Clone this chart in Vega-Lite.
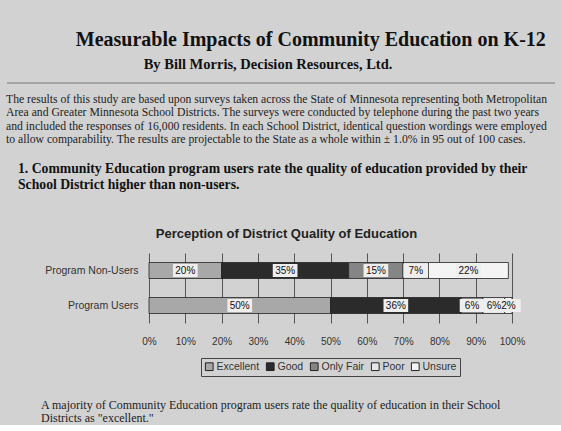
{
  "$schema": "https://vega.github.io/schema/vega-lite/v6.json",
  "background": "#d2d2d2",
  "padding": {"left": 6, "right": 5, "top": 29, "bottom": 0},
  "title": {
    "text": "Measurable Impacts of Community Education on K-12",
    "font": "Liberation Serif",
    "fontSize": 20,
    "fontWeight": "bold",
    "color": "#111",
    "anchor": "middle",
    "dx": 30,
    "offset": 7
  },
  "config": {
    "view": {"stroke": null},
    "font": "Liberation Sans"
  },
  "resolve": {"scale": {"color": "independent"}, "legend": {"color": "independent"}},
  "spacing": 8,
  "vconcat": [
    {
      "width": 548,
      "height": 1,
      "data": {"values": [{"line": 0}]},
      "title": {
        "text": "By Bill Morris, Decision Resources, Ltd.",
        "font": "Liberation Serif",
        "fontSize": 14.5,
        "fontWeight": "bold",
        "color": "#111",
        "anchor": "middle",
        "dx": -13,
        "offset": 10
      },
      "mark": {"type": "rule", "color": "#777", "strokeWidth": 1.2},
      "encoding": {"y": {"datum": 0, "type": "quantitative", "axis": null}}
    },
    {
      "width": 548,
      "height": 54,
      "data": {
        "values": [
          {"line": 1, "text": "The results of this study are based upon surveys taken across the State of Minnesota representing both Metropolitan"},
          {"line": 2, "text": "Area and Greater Minnesota School Districts. The surveys were conducted by telephone during the past two years"},
          {"line": 3, "text": "and included the responses of 16,000 residents. In each School District, identical question wordings were employed"},
          {"line": 4, "text": "to allow comparability. The results are projectable to the State as a whole within ± 1.0% in 95 out of 100 cases."}
        ]
      },
      "title": {
        "text": [
          "1. Community Education program users rate the quality of education provided by their",
          "School District higher than non-users."
        ],
        "orient": "bottom",
        "anchor": "start",
        "font": "Liberation Serif",
        "fontSize": 13.7,
        "fontWeight": "bold",
        "lineHeight": 16,
        "color": "#111",
        "offset": 16,
        "dx": 12
      },
      "mark": {"type": "text", "font": "Liberation Serif", "fontSize": 11.7, "color": "#222", "align": "left", "baseline": "middle", "dx": -275},
      "encoding": {
        "y": {"field": "line", "type": "ordinal", "axis": null},
        "text": {"field": "text"}
      }
    },
    {
      "width": 505,
      "height": 70,
      "title": {
        "text": ["", "Perception of District Quality of Education"],
        "font": "Liberation Sans",
        "fontSize": 13,
        "fontWeight": "bold",
        "lineHeight": 28,
        "color": "#222",
        "anchor": "middle",
        "dx": 27,
        "offset": 12
      },
      "data": {
        "values": [
          {"group": "Program Non-Users", "rating": "Excellent", "rank": 1, "share": 0.20},
          {"group": "Program Non-Users", "rating": "Good", "rank": 2, "share": 0.35},
          {"group": "Program Non-Users", "rating": "Only Fair", "rank": 3, "share": 0.15},
          {"group": "Program Non-Users", "rating": "Poor", "rank": 4, "share": 0.07},
          {"group": "Program Non-Users", "rating": "Unsure", "rank": 5, "share": 0.22},
          {"group": "Program Users", "rating": "Excellent", "rank": 1, "share": 0.50},
          {"group": "Program Users", "rating": "Good", "rank": 2, "share": 0.36},
          {"group": "Program Users", "rating": "Only Fair", "rank": 3, "share": 0.06},
          {"group": "Program Users", "rating": "Poor", "rank": 4, "share": 0.06},
          {"group": "Program Users", "rating": "Unsure", "rank": 5, "share": 0.02}
        ]
      },
      "encoding": {
        "y": {
          "field": "group",
          "type": "nominal",
          "sort": ["Program Non-Users", "Program Users"],
          "axis": {
            "title": null,
            "ticks": false,
            "domain": false,
            "offset": -142,
            "minExtent": 0,
            "labelFont": "Liberation Sans",
            "labelFontSize": 10.5,
            "labelColor": "#333",
            "labelPadding": 11
          }
        },
        "x": {
          "field": "share",
          "type": "quantitative",
          "stack": "zero",
          "scale": {"domain": [0, 1], "nice": false, "range": [142, 505]},
          "axis": {
            "title": null,
            "values": [0, 0.1, 0.2, 0.3, 0.4, 0.5, 0.6, 0.7, 0.8, 0.9, 1],
            "format": ".0%",
            "labelFlush": false,
            "grid": true,
            "gridColor": "#555",
            "ticks": false,
            "domain": false,
            "labelFont": "Liberation Sans",
            "labelFontSize": 10,
            "labelColor": "#333",
            "labelPadding": 13
          }
        },
        "order": {"field": "rank"}
      },
      "layer": [
        {
          "mark": {"type": "bar", "size": 16, "stroke": "#222", "strokeWidth": 0.8},
          "encoding": {
            "color": {
              "field": "rating",
              "type": "nominal",
              "scale": {
                "domain": ["Excellent", "Good", "Only Fair", "Poor", "Unsure"],
                "range": ["#a8a8a8", "#2b2b2b", "#858585", "#e6e6e6", "#f4f4f4"]
              },
              "legend": {
                "title": null,
                "orient": "none",
                "legendX": 194,
                "legendY": 105,
                "direction": "horizontal",
                "symbolType": "square",
                "symbolSize": 60,
                "symbolStrokeColor": "#222",
                "symbolStrokeWidth": 1,
                "labelFont": "Liberation Sans",
                "labelFontSize": 10.5,
                "labelColor": "#333",
                "columnPadding": 4,
                "labelOffset": 2,
                "strokeColor": "#444",
                "padding": 3
              }
            }
          }
        },
        {
          "mark": {"type": "point", "shape": "M-1.9,-1H1.9V1H-1.9Z", "size": 169, "filled": true, "color": "#eeeeee", "opacity": 1},
          "encoding": {
            "x": {"field": "share", "type": "quantitative", "stack": "zero", "bandPosition": 0.5}
          }
        },
        {
          "mark": {"type": "text", "font": "Liberation Sans", "fontSize": 10, "color": "#111"},
          "encoding": {
            "x": {"field": "share", "type": "quantitative", "stack": "zero", "bandPosition": 0.5},
            "text": {"field": "share", "type": "quantitative", "format": ".0%"}
          }
        }
      ]
    },
    {
      "width": 548,
      "height": 40,
      "data": {"values": [{"note": ["A majority of Community Education program users rate the quality of education in their School", "Districts as \"excellent.\""]}]},
      "mark": {"type": "text", "font": "Liberation Serif", "fontSize": 12, "lineHeight": 13, "color": "#222", "align": "left", "baseline": "middle", "dx": -240},
      "encoding": {"text": {"field": "note"}}
    }
  ]
}
